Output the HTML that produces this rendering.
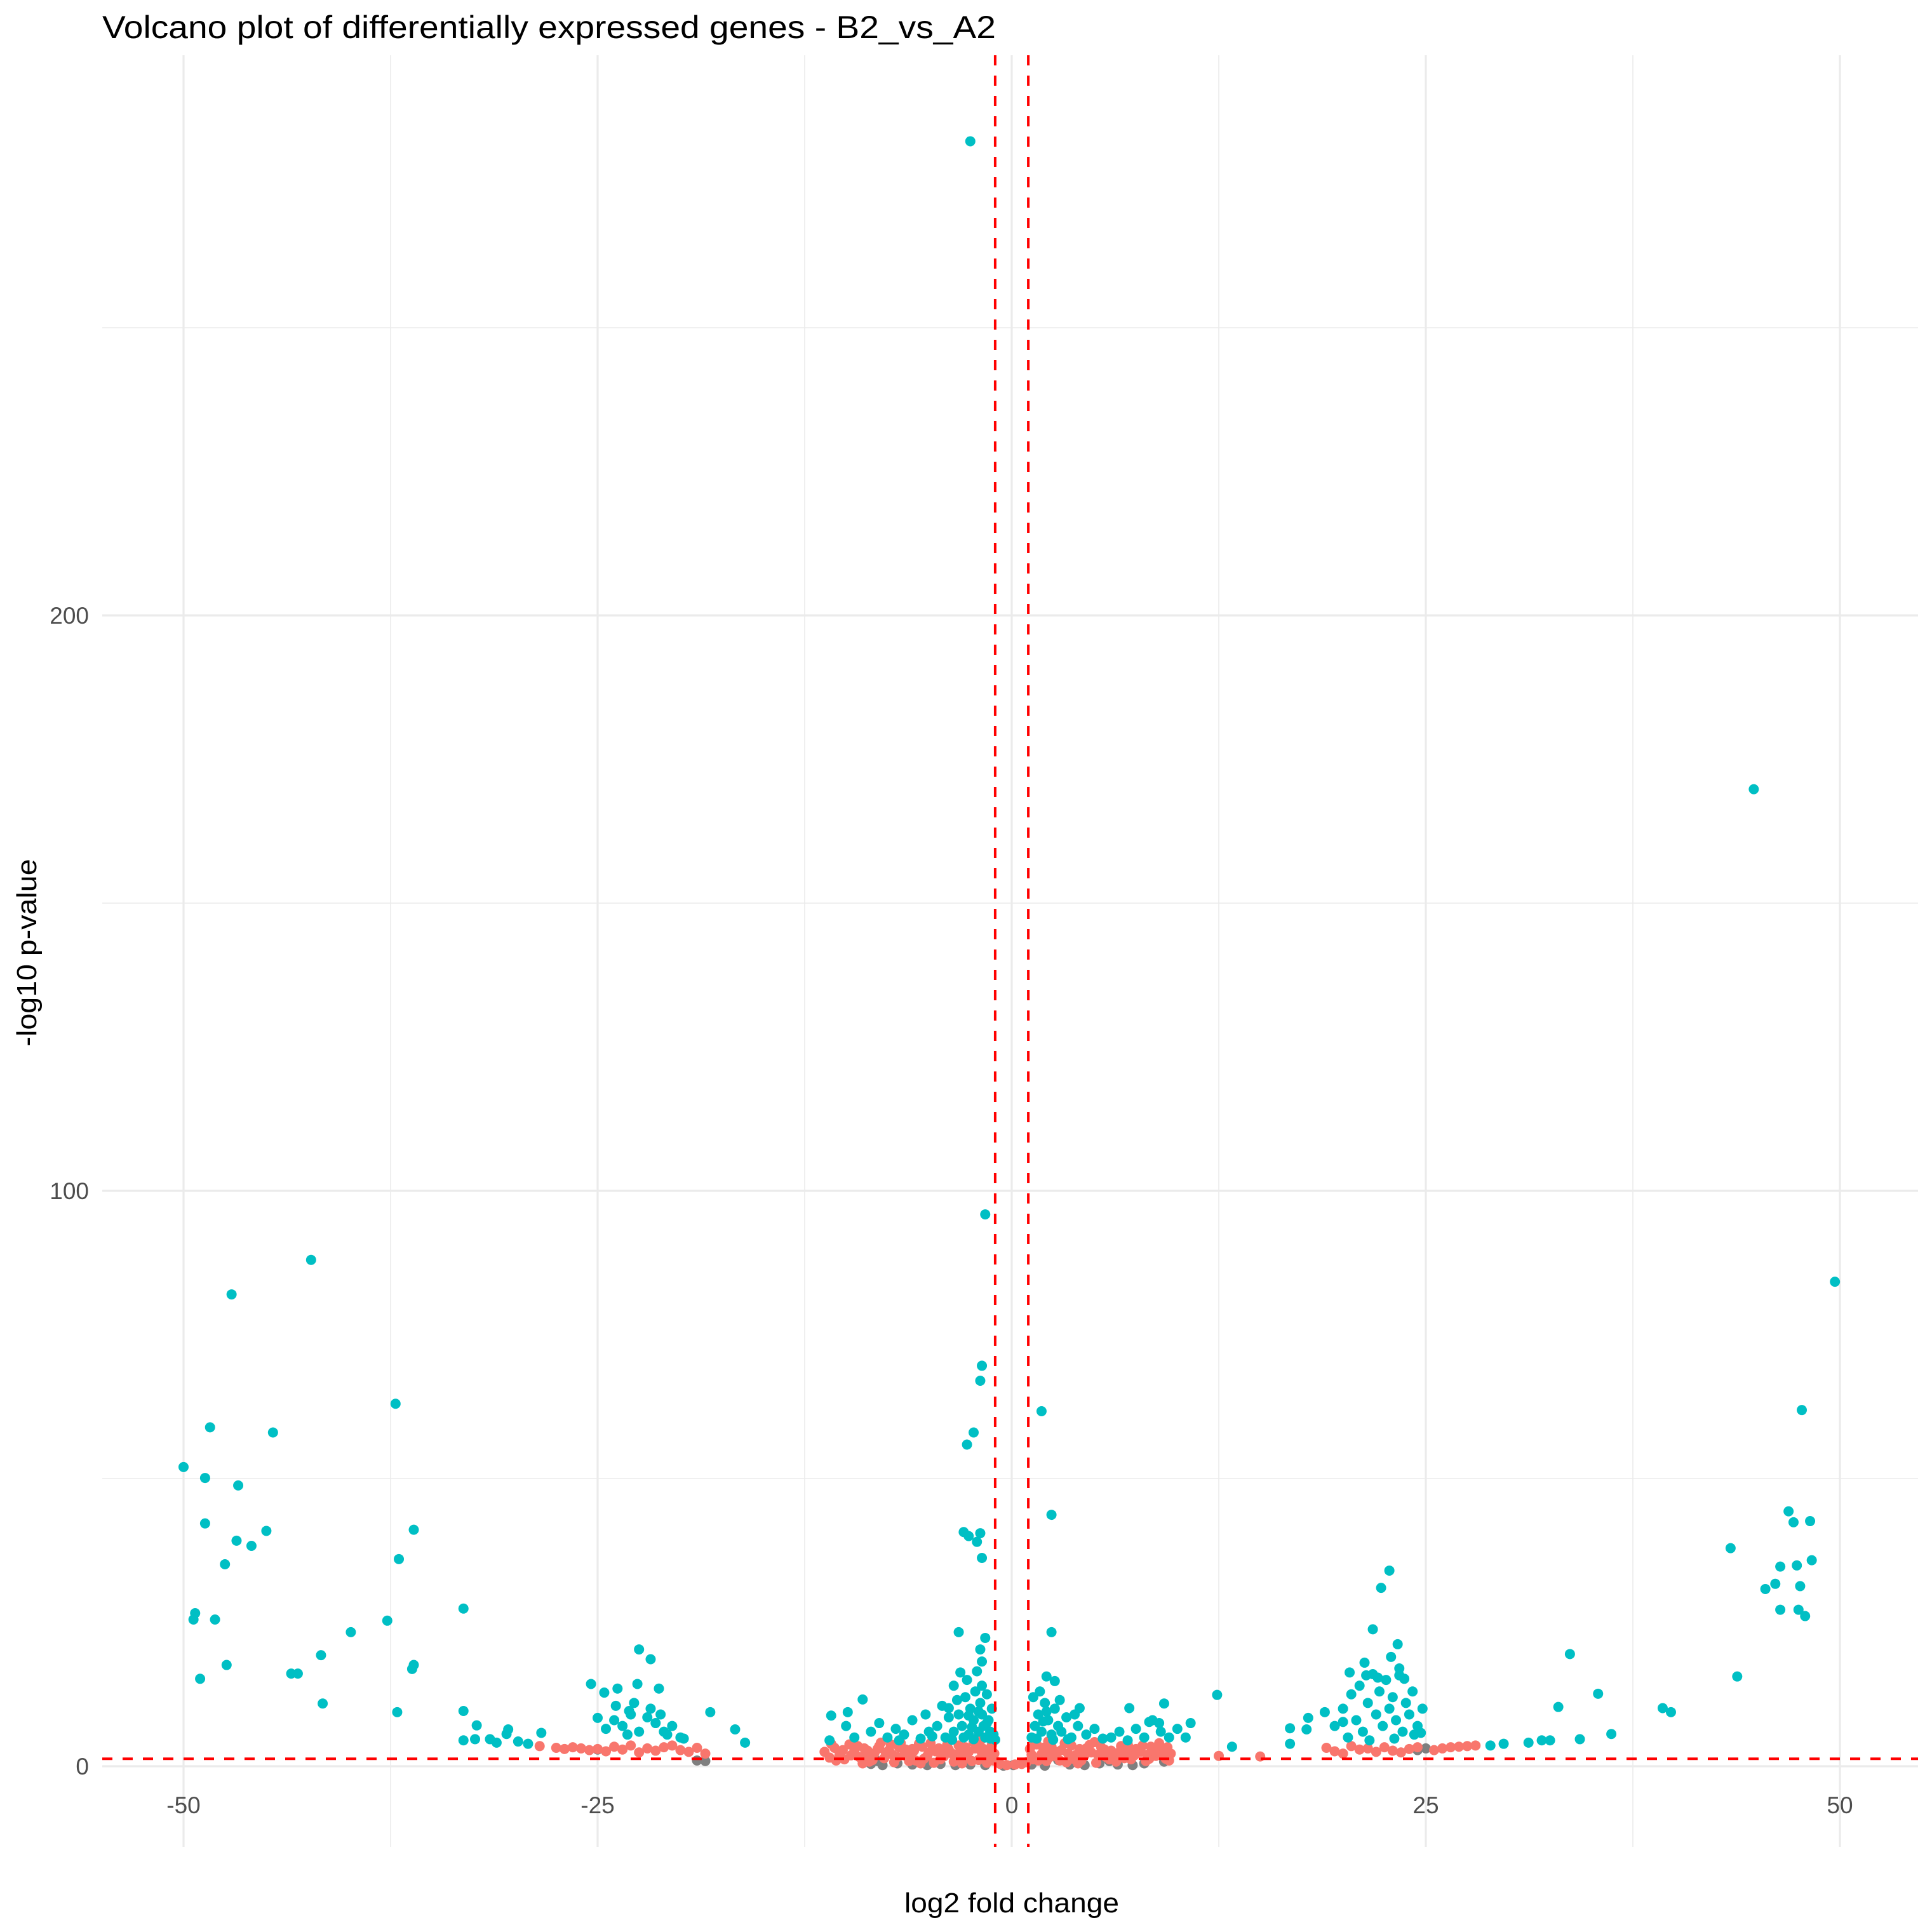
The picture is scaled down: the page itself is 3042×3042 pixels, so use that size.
<!DOCTYPE html>
<html><head><meta charset="utf-8">
<style>
html,body{margin:0;padding:0;background:#fff;}
svg{display:block;font-family:"Liberation Sans",Arial,sans-serif;}
</style></head>
<body>
<svg id="chart" width="3042" height="3042" viewBox="0 0 3042 3042" xmlns="http://www.w3.org/2000/svg">
<rect x="0" y="0" width="3042" height="3042" fill="#fff"/>
<g id="grid"></g>
<g id="ticks"></g>
<g id="points"></g>
<g id="thresholds"></g>
<text x="161" y="60" font-size="50" fill="#000" textLength="1407" lengthAdjust="spacingAndGlyphs">Volcano plot of differentially expressed genes - B2_vs_A2</text>
<text x="1593" y="3011" font-size="44" fill="#000" text-anchor="middle" textLength="338" lengthAdjust="spacingAndGlyphs">log2 fold change</text>
<text transform="translate(57,1500) rotate(-90)" font-size="44" fill="#000" text-anchor="middle" textLength="295" lengthAdjust="spacingAndGlyphs">-log10 p-value</text>
</svg>
<script>
const xMajorTicks=[-50,-25,0,25,50];
const xMinorTicks=[-37.5,-12.5,12.5,37.5];
const yMajorTicks=[0,100,200];
const yMinorTicks=[50,150,250];
const xTickLabels=["-50","-25","0","25","50"];
const yTickLabels=["0","100","200"];
const lfcThresholds=[-1,1];
const pThreshold=[1.3];
const grey=[[-19,1.0],[-18.5,0.9],[-8.5,0.4],[-7.8,0.2],[-6.9,0.5],[-6,0.3],[-5.1,0.2],[-4.3,0.4],[-3.4,0.2],[-2.5,0.3],[-1.6,0.2],[-0.5,0.1],[0.1,0.2],[1.2,0.3],[2.0,0.1],[3.5,0.3],[4.4,0.2],[5.3,0.5],[6.4,0.3],[7.3,0.2],[8.0,0.5],[9.2,0.8],[-3.3,1.0],[-8.1,0.9],[2.8,1.1],[5.9,0.9],[24.5,2.8],[25.0,3.1],[-25,2.9]];
const red=[[-28.5,3.5],[-27.5,3.2],[-27,3.0],[-26.5,3.3],[-26,3.1],[-25.5,2.8],[-25,3],[-24.5,2.6],[-24,3.4],[-23.5,2.9],[-23,3.6],[-22.5,2.4],[-22,3.1],[-21.5,2.7],[-21,3.3],[-20.5,3.6],[-20,2.8],[-19.5,2.5],[-19,3.2],[-18.5,2.2],
[-11.3,2.5],[-11,1.5],[-10.7,3.2],[-10.4,2.0],[-10.1,1.2],[-9.8,3.8],[-9.5,2.6],[-9.2,1.6],[-8.9,3.1],[-8.6,0.8],[-8.3,2.2],[-8.0,3.5],[-7.7,1.4],[-7.4,2.8],[-7.1,0.7],[-6.8,3.3],[-6.5,1.9],[-6.2,0.9],[-5.9,2.7],[-5.6,3.9],[-5.3,1.3],[-5.0,2.4],[-4.7,0.6],[-4.4,3.1],[-4.1,1.7],[-3.8,2.9],[-3.5,0.8],[-3.2,3.6],[-2.9,1.5],[-2.6,2.5],[-2.3,4.2],[-2.0,1.1],[-1.7,3.0],[-1.4,2.0],[-1.2,3.7],[-1.1,1.0],[-10.9,3.9],[-9.0,0.5],[-7.9,4.1],[-6.0,3.0],[-4.9,4.0],[-3.0,0.5],[-1.5,0.6],[-8.8,1.9],[-7.2,2.0],[-5.5,0.5],[-4.2,2.3],[-2.8,3.3],[-1.9,4.4],[-6.7,4.0],
[-10.6,1.0],[-10.2,2.8],[-9.7,1.9],[-9.3,3.5],[-8.7,2.7],[-8.4,1.1],[-8.1,3.0],[-7.6,2.4],[-7.3,3.8],[-6.9,1.6],[-6.4,2.9],[-6.1,2.2],[-5.8,1.0],[-5.4,3.4],[-5.1,1.8],[-4.6,2.6],[-4.3,1.2],[-3.9,3.7],[-3.6,2.2],[-3.3,1.2],[-3.1,2.7],[-2.7,1.9],[-2.4,0.9],[-2.2,3.1],[-1.8,2.3],[-1.6,1.6],[-1.3,2.8],[-1.05,2.2],
[1.1,3.0],[1.3,1.2],[1.5,3.8],[1.8,2.1],[2.1,0.9],[2.4,3.4],[2.7,1.7],[3.0,2.8],[3.3,0.7],[3.6,3.6],[3.9,2.0],[4.2,1.0],[4.5,3.1],[4.8,2.4],[5.1,0.6],[5.4,3.3],[5.7,1.6],[6.0,2.7],[6.3,0.8],[6.6,3.5],[6.9,2.2],[7.2,1.2],[7.5,3.0],[7.8,2.5],[8.1,0.9],[8.4,3.4],[8.7,1.8],[9.0,2.9],[9.3,1.3],[9.6,2.2],[1.4,4.1],[2.2,4.3],[3.2,4.0],[5.0,4.2],[7.0,3.9],[8.9,4.0],[2.0,2.4],[4.0,0.5],[6.2,1.4],[8.2,2.0],[12.5,1.8],[15.0,1.7],
[1.2,2.0],[1.6,1.0],[1.9,3.2],[2.3,1.6],[2.6,2.6],[2.9,1.0],[3.4,2.2],[3.7,1.3],[4.1,3.0],[4.4,1.9],[4.7,3.7],[5.2,2.0],[5.6,2.9],[5.9,1.2],[6.4,2.3],[6.8,1.4],[7.1,3.2],[7.4,1.9],[7.9,3.6],[8.3,1.3],[8.6,2.6],[9.1,2.0],[9.4,3.3],[9.5,1.0],
[-0.7,0.4],[-0.3,0.2],[0.2,0.3],[0.6,0.4],[-0.9,0.8],[0.9,0.7],
[19,3.2],[19.5,2.6],[20,2.2],[20.5,3.5],[21,2.9],[21.5,3.1],[22,2.5],[22.5,3.3],[23,2.7],[23.5,2.4],[24,3.0],[24.5,3.3],[25.5,2.8],[26,3.1],[26.5,3.3],[27,3.4],[27.5,3.5],[28,3.6]];
const teal=[[-2.5,282.4],[44.8,169.8],[-1.6,95.9],[-42.3,88],[-47.1,82],[49.7,84.2],[-1.8,69.6],[-1.9,67],[-37.2,63],[1.8,61.7],[47.7,61.9],[-48.4,58.9],[-44.6,58],[-2.3,58],[-2.7,55.9],[-50,52],[-48.7,50.1],[-46.7,48.8],[2.4,43.7],[-48.7,42.2],[46.9,44.3],[47.2,42.4],[48.2,42.6],[-36.1,41.1],[-45,40.9],[-46.8,39.2],[-45.9,38.3],[-2.9,40.7],[-2.6,40],[-1.9,40.5],[-2.1,39],[-1.8,36.2],[43.4,37.9],[-47.5,35.1],[-37,36],[46.4,34.7],[47.4,34.9],[48.3,35.8],[22.8,34],[22.3,31],[45.5,30.8],[46.1,31.7],[47.6,31.3],[46.4,27.2],[47.5,27.2],[47.9,26.1],[-33.1,27.4],[-49.3,26.6],[-49.4,25.5],[-48.1,25.5],[-37.7,25.3],[-39.9,23.3],[21.8,23.8],[-3.2,23.3],[-1.6,22.3],[2.4,23.3],[23.3,21.2],[-22.5,20.3],[33.7,19.5],[-1.9,20.3],[-41.7,19.3],[-21.8,18.6],[-1.8,18.2],[-36.1,17.6],[-36.2,16.9],[-47.4,17.6],[-43.5,16.1],[-43.1,16.1],[-49,15.2],[20.4,16.3],[21.4,15.8],[22.1,15.4],[23.4,15.8],[23.7,15.2],[43.8,15.6],[2.1,15.6],[2.6,14.8],[-25.4,14.3],[-22.6,14.3],[-21.3,13.5],[-24.6,12.8],[-23.8,13.5],[12.4,12.4],[35.4,12.6],[-3.1,16.3],[-41.6,10.9],[-23.9,10.5],[-23.1,9.6],[-9,11.6],[-9.9,9.4],[-10.9,8.8],[-3.8,10.1],[-18.2,9.4],[-37.1,9.4],[-33.1,9.6],[-25,8.4],[7.1,10.1],[9.2,10.9],[4.1,10.1],[33,10.3],[39.3,10.1],[39.8,9.4],[18.9,9.4],[17.9,8.4],[16.8,6.6],[17.8,6.4],[20,7.7],[10.8,7.5],[8.3,7.7],[8.9,7.5],[-32.3,7.1],[-16.7,6.4],[36.2,5.6],[24.7,5.8],[-30.5,5.6],[-30.4,6.4],[-28.4,5.8],[-33.1,4.5],[-16.1,4.1],[13.3,3.4],[16.8,3.9],[32,4.5],[34.3,4.7],[31.2,4.1],[28.9,3.6],[29.7,3.9],[32.5,4.5],[-32.4,4.7],[-31.5,4.7],[-31.1,4.1],[-29.8,4.3],[-29.2,3.9],
[-8.5,6],[-8,7.5],[-7.5,5],[-7,6.5],[-6.5,5.5],[-6,8],[-5.5,4.8],[-5,6],[-4.5,7],[-4,5],[-3.8,8.5],[-3.5,6],[-3.2,9],[-3,7],[-2.8,12],[-2.6,5.5],[-2.5,10],[-2.3,8],[-2.2,13],[-2,6],[-1.9,11],[-1.8,9],[-1.7,7],[-1.6,5],[-1.5,12.5],[-1.4,8],[-1.3,6],[-1.2,10],[-3.5,14],[-2.7,15],[-2.1,16.5],[-1.8,14],[-9.5,5],[-10,7],[-11,4.5],[-6.8,4.5],[-5.2,9],[-4.2,10.5],[-3.3,11.5],[-2.4,6.8],[-1.1,5.5],[-1.0,4.6],
[-2.9,5.0],[-2.6,8.8],[-2.0,9.5],[-1.5,7.5],[-3.6,4.6],[-4.8,5.2],[-2.3,4.7],[-1.3,4.8],
[1.2,5],[1.4,7],[1.6,9],[1.8,6],[2,11],[2.2,8],[2.4,5.5],[2.6,10],[2.8,7],[3,6],[3.3,8.5],[3.6,5],[4,7],[4.5,5.5],[5,6.5],[5.5,4.8],[6,5],[6.5,6],[7,4.5],[7.5,6.5],[8,5],[8.5,8],[9,6],[9.5,5],[10,6.5],[10.5,5],[1.3,12],[1.7,13],[2.1,9.5],[3.8,9],[2.9,11.5],
[1.5,4.8],[2.5,4.6],[3.4,4.7],[1.9,7.8],
[19.5,7],[20,10],[20.5,12.5],[20.8,8],[21,14],[21.2,6],[21.5,11],[21.8,16],[22,9],[22.2,13],[22.4,7],[22.6,15],[22.8,10],[23,12],[23.2,8],[23.4,17],[23.6,6],[23.8,11],[24,9],[24.2,13],[24.5,7],[24.8,10],[20.3,5],[21.6,4.5],[23.1,4.8],[22.9,19],[21.3,18],[24.3,5.5],
[-24.5,6.5],[-24,8],[-23.5,7],[-23,9],[-22.5,6],[-22,8.5],[-21.5,7.5],[-21,6],[-20.5,7],[-20,5],[-22.8,11],[-21.8,10],[-21.2,9],[-20.8,5.5],[-23.2,5.5],[-19.8,4.8]];

const NS="http://www.w3.org/2000/svg";
const PL=161,PR=3020,PT=87,PB=2908;
function sx(v){return 1593+v*26.08;}
function sy(v){return 2781-v*9.06;}
function mk(tag,parent){const e=document.createElementNS(NS,tag);parent.appendChild(e);return e;}
const gGrid=document.getElementById('grid');
const gTicks=document.getElementById('ticks');
const gPts=document.getElementById('points');
const gThr=document.getElementById('thresholds');
function gridLine(x1,y1,x2,y2,w,name){
  const l=mk('line',gGrid);
  l.setAttribute('x1',x1);l.setAttribute('y1',y1);l.setAttribute('x2',x2);l.setAttribute('y2',y2);
  l.setAttribute('stroke','#EBEBEB');l.setAttribute('stroke-width',w);
  
  
}
xMinorTicks.forEach(v=>gridLine(sx(v),PT,sx(v),PB,1.6,'x-minor-gridline'));
yMinorTicks.forEach(v=>gridLine(PL,sy(v),PR,sy(v),1.6,'y-minor-gridline'));
xMajorTicks.forEach(v=>gridLine(sx(v),PT,sx(v),PB,3.2,'x-major-gridline'));
yMajorTicks.forEach(v=>gridLine(PL,sy(v),PR,sy(v),3.2,'y-major-gridline'));
xMajorTicks.forEach((v,i)=>{
  const t=mk('text',gTicks);
  t.setAttribute('x',sx(v));t.setAttribute('y',2855);t.setAttribute('text-anchor','middle');
  t.setAttribute('font-size','37');t.setAttribute('fill','#4D4D4D');
  t.textContent=xTickLabels[i];
  
  
});
yMajorTicks.forEach((v,i)=>{
  const t=mk('text',gTicks);
  t.setAttribute('x',140);t.setAttribute('y',sy(v)+13);t.setAttribute('text-anchor','end');
  t.setAttribute('font-size','37');t.setAttribute('fill','#4D4D4D');
  t.textContent=yTickLabels[i];
  
  
});
function drawPts(arr,color,name){
  arr.forEach(p=>{
    const c=mk('circle',gPts);
    c.setAttribute('cx',sx(p[0]));c.setAttribute('cy',sy(p[1]));c.setAttribute('r',8);
    c.setAttribute('fill',color);
    
    
  });
}
drawPts(grey,'#7F7F7F','point-not-significant');
drawPts(red,'#F8766D','point-fold-change-only');
drawPts(teal,'#00BFC4','point-significant');
lfcThresholds.forEach(v=>{
  const l=mk('line',gThr);
  l.setAttribute('x1',sx(v));l.setAttribute('x2',sx(v));l.setAttribute('y1',PT);l.setAttribute('y2',PB);
  l.setAttribute('stroke','#FF0000');l.setAttribute('stroke-width',4);l.setAttribute('stroke-dasharray','16 16');
  
  
});
pThreshold.forEach(v=>{
  const l=mk('line',gThr);
  l.setAttribute('x1',PL);l.setAttribute('x2',PR);l.setAttribute('y1',sy(v));l.setAttribute('y2',sy(v));
  l.setAttribute('stroke','#FF0000');l.setAttribute('stroke-width',4);l.setAttribute('stroke-dasharray','16 16');
  
  
});
</script>
</body></html>
